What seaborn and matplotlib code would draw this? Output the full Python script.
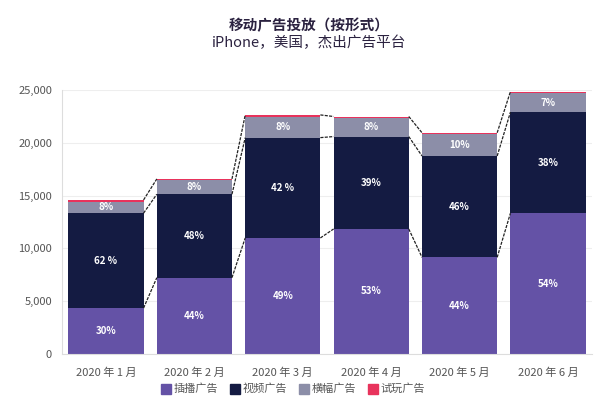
import numpy as np
import pandas as pd
import seaborn as sns
import matplotlib.pyplot as plt
from matplotlib.lines import Line2D
from matplotlib.ticker import FuncFormatter

# values (ad spend per format)
months = ["2020 年 1 月", "2020 年 2 月", "2020 年 3 月", "2020 年 4 月", "2020 年 5 月", "2020 年 6 月"]
display_ads = [4350, 7230, 10990, 11840, 9150, 13330]
video_ads = [8990, 7900, 9500, 8750, 9600, 9570]
banner_ads = [1100, 1300, 2000, 1750, 2050, 1800]
playable_ads = [150, 150, 150, 150, 150, 150]

display_labels = ["30%", "44%", "49%", "53%", "44%", "54%"]
video_labels = ["62 %", "48%", "42 %", "39%", "46%", "38%"]
banner_labels = ["8%", "8%", "8%", "8%", "10%", "7%"]

series_names = ["插播广告", "视频广告", "横幅广告", "试玩广告"]
colors = ["#6452a6", "#141b42", "#8c8ea8", "#e8335c"]

sns.set_theme(style="white")
plt.rcParams["font.family"] = ["Noto Sans CJK SC", "DejaVu Sans"]

df = pd.DataFrame({
    "month": months,
    "display": display_ads,
    "video": video_ads,
    "banner": banner_ads,
    "playable": playable_ads,
})
df["lvl1"] = df["display"]
df["lvl2"] = df["lvl1"] + df["video"]
df["lvl3"] = df["lvl2"] + df["banner"]
df["lvl4"] = df["lvl3"] + df["playable"]

fig = plt.figure(figsize=(6, 4), dpi=100)
ax = fig.add_axes([0.103, 0.115, 0.884, 0.66])

# stacked bars: draw cumulative totals from top layer down
bar_w = 0.85
for col, c in zip(["lvl4", "lvl3", "lvl2", "lvl1"], colors[::-1]):
    sns.barplot(data=df, x="month", y=col, color=c, width=bar_w,
                saturation=1, linewidth=0, ax=ax, zorder=2)

# dashed series lines between neighbouring bars
for col in ["lvl1", "lvl2", "lvl4"]:
    vals = df[col].values
    for i in range(len(vals) - 1):
        ax.plot([i + bar_w / 2, i + 1 - bar_w / 2], [vals[i], vals[i + 1]],
                color="#222222", lw=0.9, ls=(0, (2.5, 1)), zorder=3)

# percentage labels inside segments
for i in range(len(months)):
    segs = [(0, df["lvl1"][i], display_labels[i]),
            (df["lvl1"][i], df["lvl2"][i], video_labels[i]),
            (df["lvl2"][i], df["lvl3"][i], banner_labels[i])]
    for lo, hi, txt in segs:
        ax.text(i, (lo + hi) / 2, txt, ha="center", va="center",
                color="white", fontsize=7, fontweight="bold", zorder=4)

ax.set_ylim(0, 25000)
ax.set_xlim(-0.5, len(months) - 0.5)
ax.set_yticks(np.arange(0, 25001, 5000))
ax.yaxis.set_major_formatter(FuncFormatter(lambda v, p: f"{int(v):,}"))
ax.grid(axis="y", color="#eeeeee", lw=0.8, zorder=0)
ax.set_axisbelow(True)
ax.set_xlabel("")
ax.set_ylabel("")
ax.tick_params(axis="y", labelsize=8, colors="#555555", length=0, pad=7)
ax.tick_params(axis="x", labelsize=8, colors="#555555", length=0, pad=10)
for s in ["top", "right"]:
    ax.spines[s].set_visible(False)
for s in ["left", "bottom"]:
    ax.spines[s].set_color("#dddddd")
    ax.spines[s].set_linewidth(0.8)

handles = [Line2D([0], [0], marker="s", ls="", color=c, markersize=7) for c in colors]
ax.legend(handles, series_names, loc="upper center", bbox_to_anchor=(0.43, -0.075),
          ncol=4, frameon=False, fontsize=8, handletextpad=-0.3,
          columnspacing=0.5, labelcolor="#555555")

fig.text(0.515, 0.937, "移动广告投放（按形式）", ha="center", va="center",
         fontsize=10.5, fontweight="bold", color="#2b2240")
fig.text(0.515, 0.892, "iPhone，美国，杰出广告平台", ha="center", va="center",
         fontsize=10.5, color="#2b2240")

fig.savefig("out.png", dpi=100)
